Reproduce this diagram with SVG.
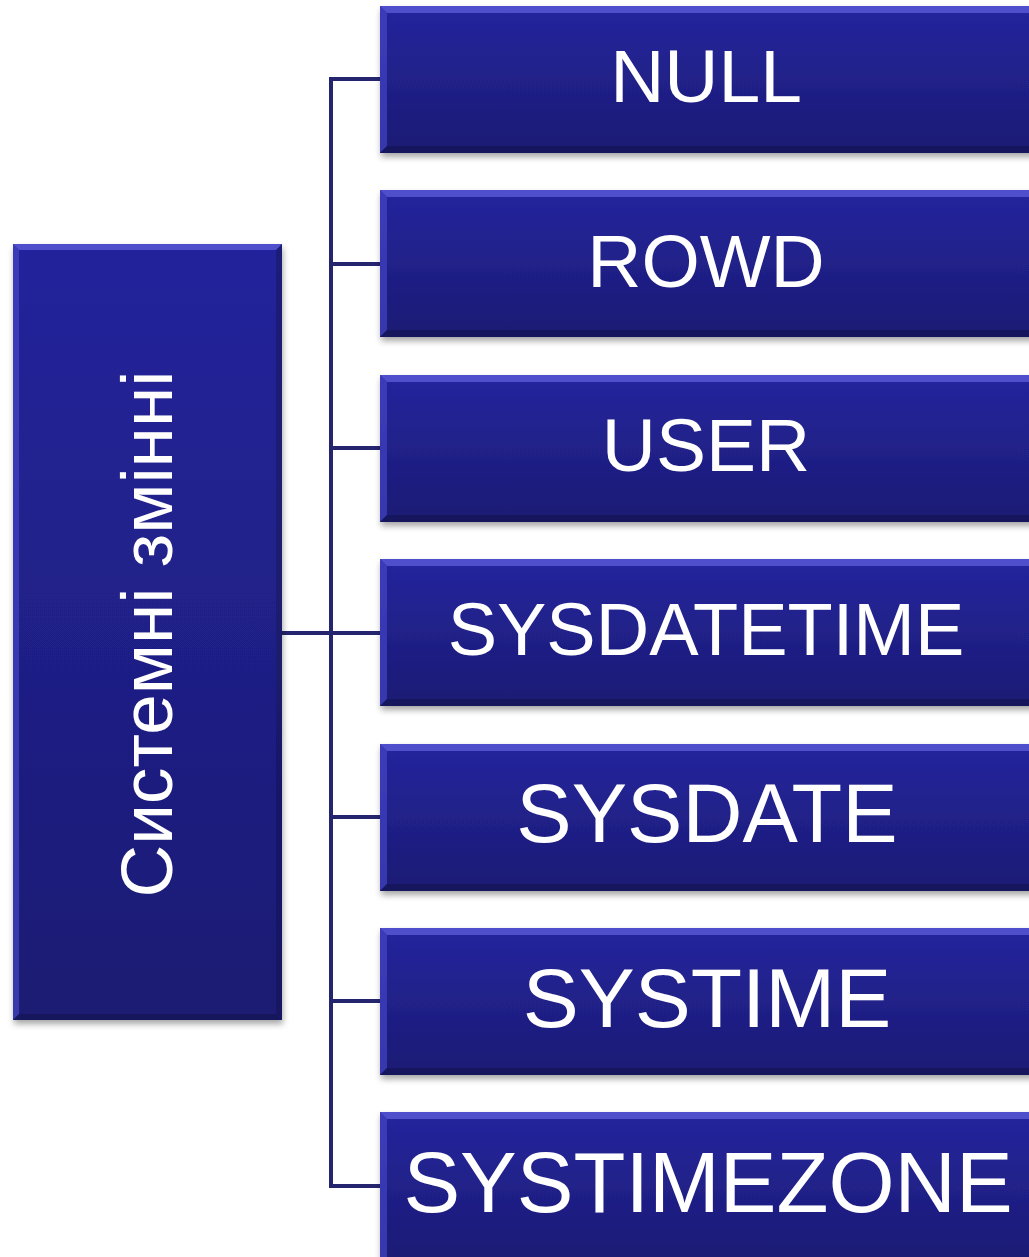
<svg xmlns="http://www.w3.org/2000/svg" width="1029" height="1257" viewBox="0 0 1029 1257">
  <defs>
    <linearGradient id="fillG" x1="0" y1="0" x2="0" y2="1">
      <stop offset="0" stop-color="#25259e"/>
      <stop offset="1" stop-color="#1b1b74"/>
    </linearGradient>
    <linearGradient id="fillTall" x1="0" y1="0" x2="0" y2="1">
      <stop offset="0" stop-color="#24249c"/>
      <stop offset="1" stop-color="#1b1b73"/>
    </linearGradient>
    <filter id="sh" x="-10%" y="-10%" width="120%" height="130%">
      <feDropShadow dx="1" dy="4" stdDeviation="3" flood-color="#000" flood-opacity="0.35"/>
    </filter>
  </defs>
  <style>
    .box { fill: url(#fillG); }
    .tall { fill: url(#fillTall); }
    .bt { fill: #5a5ad8; opacity: 0.8; }
    .bl { fill: #4444c4; opacity: 0.7; }
    .bb { fill: #12124a; opacity: 0.55; }
    .br { fill: #14144f; opacity: 0.45; }
    .lbl { font-family: "Liberation Sans", Arial, sans-serif; fill: #ffffff; text-anchor: middle; }
    .conn { fill: none; stroke: #25256f; stroke-width: 4; stroke-linejoin: miter; }
  </style>
  <rect width="1029" height="1257" fill="#ffffff"/>

  <g id="connectors">
    <path class="conn" d="M282 633 H331"/>
    <path class="conn" d="M380 79 H331 V1186 H380"/>
    <path class="conn" d="M331 264 H380 M331 448 H380 M331 633 H380 M331 817 H380 M331 1001 H380"/>
  </g>

  <g id="node-root" filter="url(#sh)">
    <rect class="tall" x="13" y="244" width="269" height="776"/>
    <polygon class="bt" points="13,244 282,244 276,250 19,250"/>
    <polygon class="bl" points="13,244 19,250 19,1014 13,1020"/>
    <polygon class="bb" points="13,1020 19,1014 276,1014 282,1020"/>
    <polygon class="br" points="282,244 282,1020 276,1014 276,250"/>
    <text class="lbl" font-size="73" transform="translate(172,634) rotate(-90)">Системні змінні</text>
  </g>

  <g id="node-null" filter="url(#sh)">
    <rect class="box" x="380" y="6" width="660" height="147"/>
    <polygon class="bt" points="380,6 1040,6 1034,13 387,13"/>
    <polygon class="bl" points="380,6 387,13 387,146 380,153"/>
    <polygon class="bb" points="380,153 387,146 1034,146 1040,153"/>
    <text class="lbl" font-size="75" x="706" y="102">NULL</text>
  </g>

  <g id="node-rowd" filter="url(#sh)">
    <rect class="box" x="380" y="190" width="660" height="147"/>
    <polygon class="bt" points="380,190 1040,190 1034,197 387,197"/>
    <polygon class="bl" points="380,190 387,197 387,330 380,337"/>
    <polygon class="bb" points="380,337 387,330 1034,330 1040,337"/>
    <text class="lbl" font-size="75" x="706" y="287">ROWD</text>
  </g>

  <g id="node-user" filter="url(#sh)">
    <rect class="box" x="380" y="375" width="660" height="147"/>
    <polygon class="bt" points="380,375 1040,375 1034,382 387,382"/>
    <polygon class="bl" points="380,375 387,382 387,515 380,522"/>
    <polygon class="bb" points="380,522 387,515 1034,515 1040,522"/>
    <text class="lbl" font-size="75" x="706" y="471">USER</text>
  </g>

  <g id="node-sysdatetime" filter="url(#sh)">
    <rect class="box" x="380" y="559" width="660" height="147"/>
    <polygon class="bt" points="380,559 1040,559 1034,566 387,566"/>
    <polygon class="bl" points="380,559 387,566 387,699 380,706"/>
    <polygon class="bb" points="380,706 387,699 1034,699 1040,706"/>
    <text class="lbl" font-size="74" x="706" y="655">SYSDATETIME</text>
  </g>

  <g id="node-sysdate" filter="url(#sh)">
    <rect class="box" x="380" y="744" width="660" height="147"/>
    <polygon class="bt" points="380,744 1040,744 1034,751 387,751"/>
    <polygon class="bl" points="380,744 387,751 387,884 380,891"/>
    <polygon class="bb" points="380,891 387,884 1034,884 1040,891"/>
    <text class="lbl" font-size="83" x="707" y="842">SYSDATE</text>
  </g>

  <g id="node-systime" filter="url(#sh)">
    <rect class="box" x="380" y="928" width="660" height="147"/>
    <polygon class="bt" points="380,928 1040,928 1034,935 387,935"/>
    <polygon class="bl" points="380,928 387,935 387,1068 380,1075"/>
    <polygon class="bb" points="380,1075 387,1068 1034,1068 1040,1075"/>
    <text class="lbl" font-size="84" x="707" y="1027">SYSTIME</text>
  </g>

  <g id="node-systimezone" filter="url(#sh)">
    <rect class="box" x="380" y="1112" width="660" height="150"/>
    <polygon class="bt" points="380,1112 1040,1112 1034,1119 387,1119"/>
    <polygon class="bl" points="380,1112 387,1119 387,1262 380,1262"/>
    <text class="lbl" font-size="85" x="708" y="1212">SYSTIMEZONE</text>
  </g>
</svg>
